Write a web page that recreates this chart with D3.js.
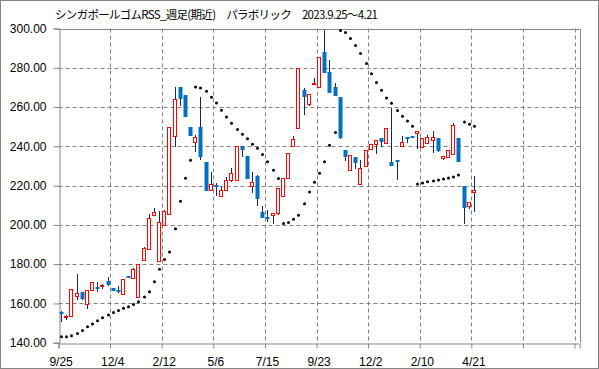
<!DOCTYPE html>
<html>
<head>
<meta charset="utf-8">
<script src="https://cdn.jsdelivr.net/npm/d3@7"></script>
<style>
body { margin: 0; background: #fff; }
svg { display: block; font-family: "Liberation Sans", Arial, sans-serif; }
</style>
</head>
<body>
<div id="chart"></div>
<script>
// weekly candles (81 weeks), axis has room for 101 weeks
const tickLabels = ["9/25", "12/4", "2/12", "5/6", "7/15", "9/23", "12/2", "2/10", "4/21"];
const axisWeeks = 101;

const open = [155.7, 153.0, 153.7, 163.6, 165.6, 159.5, 166.6, 168.5, 168.7, 171.5,
    167.8, 166.8, 164.6, 173.9, 173.1, 163.1, 182.0, 187.8, 205.1, 181.5,
    200.0, 205.3, 245.3, 270.3, 266.1, 249.8, 242.2, 249.8, 232.2, 217.8,
    220.2, 214.6, 217.6, 222.7, 222.7, 240.0, 235.1, 219.7, 224.9, 206.6,
    204.0, 204.9, 205.8, 214.6, 223.7, 240.0, 249.5, 268.5, 261.7, 271.5,
    270.3, 288.0, 277.8, 270.2, 265.1, 238.1, 227.8, 234.6, 220.5, 230.0,
    238.5, 241.0, 244.1, 241.9, 231.8, 233.1, 240.0, 244.5, 245.5, 246.6,
    239.3, 241.5, 243.4, 244.0, 234.1, 234.8, 236.0, 244.2, 220.0, 209.8,
    216.8];
const high = [156.1, 154.1, 167.6, 175.0, 165.6, 166.6, 170.7, 170.9, 170.0, 173.6,
    167.8, 169.0, 172.4, 174.2, 178.2, 179.9, 188.5, 205.3, 208.6, 207.0,
    207.8, 249.7, 270.3, 270.3, 266.1, 249.8, 246.0, 265.2, 232.2, 227.1,
    221.2, 219.3, 224.6, 228.8, 240.0, 240.0, 235.1, 227.0, 225.4, 209.5,
    207.5, 205.9, 218.6, 223.7, 236.4, 245.3, 280.0, 269.8, 266.9, 274.9,
    285.6, 299.2, 284.2, 272.0, 265.1, 238.1, 235.4, 234.6, 233.0, 238.0,
    241.0, 243.0, 244.1, 249.5, 259.5, 233.1, 245.2, 244.5, 245.5, 247.6,
    244.0, 245.7, 247.9, 244.0, 235.1, 238.2, 251.9, 244.2, 220.0, 211.8,
    224.9];
const low = [150.7, 151.8, 153.7, 161.7, 161.9, 157.3, 166.6, 165.8, 167.6, 168.8,
    166.5, 165.1, 164.6, 172.8, 173.1, 163.1, 181.8, 187.8, 205.1, 181.5,
    200.0, 205.3, 239.5, 260.7, 254.9, 245.1, 237.0, 233.0, 217.6, 217.8,
    214.9, 214.6, 217.6, 222.0, 222.7, 234.7, 223.6, 216.4, 209.8, 203.6,
    201.5, 200.5, 205.0, 214.6, 223.7, 240.0, 249.5, 255.8, 260.5, 271.5,
    270.3, 277.5, 267.3, 265.6, 243.8, 232.5, 227.8, 228.6, 220.5, 230.0,
    238.5, 235.9, 239.8, 241.9, 229.8, 222.7, 240.0, 241.8, 244.9, 238.8,
    239.3, 241.5, 236.8, 237.3, 232.9, 234.8, 236.0, 231.8, 200.2, 208.1,
    206.6];
const close = [155.0, 153.6, 167.6, 165.3, 161.9, 166.6, 170.7, 167.5, 169.3, 169.7,
    166.5, 165.8, 172.4, 173.2, 177.5, 179.9, 188.0, 203.6, 206.8, 201.5,
    207.1, 249.7, 264.1, 264.1, 254.9, 245.1, 244.6, 234.7, 217.6, 220.7,
    219.5, 217.8, 222.7, 226.4, 240.0, 237.8, 223.6, 221.7, 213.0, 203.6,
    203.5, 205.9, 218.6, 223.7, 236.4, 243.6, 280.0, 264.7, 266.9, 272.2,
    285.6, 277.5, 267.3, 265.6, 244.2, 234.7, 235.4, 231.7, 228.8, 238.0,
    241.0, 243.0, 241.9, 249.5, 229.8, 232.4, 242.0, 243.9, 244.9, 247.6,
    244.0, 244.5, 244.9, 237.3, 235.1, 238.2, 250.8, 231.8, 208.6, 211.8,
    217.8];
// parabolic SAR
const sar = [143.0, 143.0, 143.5, 144.7, 146.2, 148.1, 149.5, 151.2, 152.7, 154.1,
    155.4, 156.4, 157.5, 158.3, 159.5, 160.9, 163.3, 166.0, 171.0, 177.4,
    182.4, 186.2, 198.0, 212.0, 223.7, 232.9, 270.2, 269.7, 268.1, 265.0,
    262.0, 258.4, 254.9, 251.7, 248.6, 246.1, 243.9, 241.0, 239.0, 235.9,
    232.2, 227.8, 223.6, 200.7, 201.2, 202.9, 204.9, 210.8, 216.8, 221.7,
    226.3, 232.2, 240.5, 247.0, 299.0, 298.0, 294.9, 291.4, 287.3, 282.2,
    277.0, 272.5, 268.5, 264.6, 261.9, 258.3, 255.3, 252.9, 250.2, 220.8,
    221.3, 221.9, 222.4, 222.9, 223.4, 223.9, 224.4, 225.4, 252.4, 251.3,
    250.2];

const data = open.map((o, i) => ({ i: i, o: o, h: high[i], l: low[i], c: close[i], s: sar[i] }));

const W = 599, H = 369;
const margin = { top: 28.5, right: 19.3, bottom: 26.3, left: 58.5 };

const svg = d3.select("#chart").append("svg")
    .attr("width", W)
    .attr("height", H);

svg.append("rect")
    .attr("x", 0.5).attr("y", 0.5)
    .attr("width", W - 1).attr("height", H - 1)
    .attr("fill", "#fff")
    .attr("stroke", "#868686");

// title
svg.append("text")
    .attr("x", 55)
    .attr("y", 19)
    .attr("textLength", 323)
    .attr("lengthAdjust", "spacing")
    .style("font-family", "'Noto Sans CJK JP', sans-serif")
    .style("font-size", "11.5px")
    .attr("fill", "#000")
    .text("シンガポールゴムRSS_週足(期近)　パラボリック　2023.9.25～4.21");

const x0 = margin.left, x1 = W - margin.right;
const y0 = H - margin.bottom, y1 = margin.top;

var x = d3.scaleBand()
    .domain(d3.range(axisWeeks))
    .range([x0, x1])
    .padding(0);
var xEdge = d3.scaleLinear()
    .domain([0, axisWeeks])
    .range([x0, x1]);
var y = d3.scaleLinear()
    .domain([140, 300])
    .range([y0, y1]);

const px = (v) => Math.round(v) + 0.5;

// grid
const grid = svg.append("g")
    .attr("stroke", "#808080")
    .attr("stroke-dasharray", "4,3");
grid.selectAll("line.h")
    .data(d3.range(160, 300, 20))
    .enter().append("line")
    .attr("x1", x0).attr("x2", x1)
    .attr("y1", d => px(y(d)))
    .attr("y2", d => px(y(d)));
grid.selectAll("line.v")
    .data(d3.range(10, axisWeeks, 10))
    .enter().append("line")
    .attr("x1", d => px(xEdge(d)))
    .attr("x2", d => px(xEdge(d)))
    .attr("y1", y1).attr("y2", y0);

// plot frame top / right
svg.append("path")
    .attr("d", `M${x0},${px(y1)}H${px(x1)}V${y0}`)
    .attr("fill", "none")
    .attr("stroke", "#868686");

// Y axis
const yAxis = svg.append("g")
    .attr("transform", `translate(${px(x0)},0)`)
    .call(d3.axisLeft(y).tickValues(d3.range(140, 301, 20)).tickSize(6).tickPadding(7).tickFormat(d3.format(".2f")));
yAxis.select(".domain").attr("stroke", "#868686");
yAxis.selectAll(".tick line").attr("stroke", "#868686");
yAxis.selectAll("text")
    .style("font-size", "12px")
    .style("font-family", "'Liberation Sans', Arial, sans-serif")
    .attr("fill", "#000");

// X axis: ticks on week boundaries, labels centred in week
const xTicks = svg.append("g")
    .attr("transform", `translate(0,${px(y0)})`)
    .call(d3.axisBottom(xEdge).tickValues(d3.range(0, axisWeeks + 1, 10)).tickSize(5).tickFormat(""));
xTicks.select(".domain").attr("stroke", "#868686");
xTicks.selectAll(".tick line").attr("stroke", "#868686");

const xLabels = svg.append("g")
    .attr("transform", `translate(0,${px(y0)})`)
    .call(d3.axisBottom(x)
        .tickValues(tickLabels.map((t, k) => k * 10))
        .tickSize(0).tickPadding(14)
        .tickFormat((d) => tickLabels[d / 10]));
xLabels.select(".domain").remove();
xLabels.selectAll("text")
    .style("font-size", "12px")
    .style("font-family", "'Liberation Sans', Arial, sans-serif")
    .attr("fill", "#000");

const cx = (i) => Math.round(x(i) + x.bandwidth() / 2);

// wicks
svg.append("g").selectAll("line")
    .data(data)
    .enter().append("line")
    .attr("x1", d => cx(d.i) + 0.5)
    .attr("x2", d => cx(d.i) + 0.5)
    .attr("y1", d => Math.round(y(d.h)))
    .attr("y2", d => Math.round(y(d.l)))
    .attr("stroke", "#13275e")
    .attr("stroke-width", 1);

// bodies
const bodies = svg.append("g");
bodies.selectAll("rect.up")
    .data(data.filter(d => d.c >= d.o))
    .enter().append("rect")
    .attr("x", d => cx(d.i) - 1.5)
    .attr("width", 3)
    .attr("y", d => px(y(d.c)))
    .attr("height", d => Math.max(1, Math.round(y(d.o) - y(d.c))))
    .attr("fill", "#fff")
    .attr("stroke", "#ff0000")
    .attr("stroke-width", 1);
bodies.selectAll("rect.down")
    .data(data.filter(d => d.c < d.o))
    .enter().append("rect")
    .attr("x", d => cx(d.i) - 1.5)
    .attr("width", 4)
    .attr("y", d => Math.round(y(d.o)))
    .attr("height", d => Math.max(2, Math.round(y(d.c) - y(d.o))))
    .attr("fill", "#0070c0");

// SAR markers
svg.append("g").selectAll("circle")
    .data(data)
    .enter().append("circle")
    .attr("cx", d => cx(d.i) + 0.5)
    .attr("cy", d => y(d.s))
    .attr("r", 1.5)
    .attr("fill", "#000");
</script>
</body>
</html>
